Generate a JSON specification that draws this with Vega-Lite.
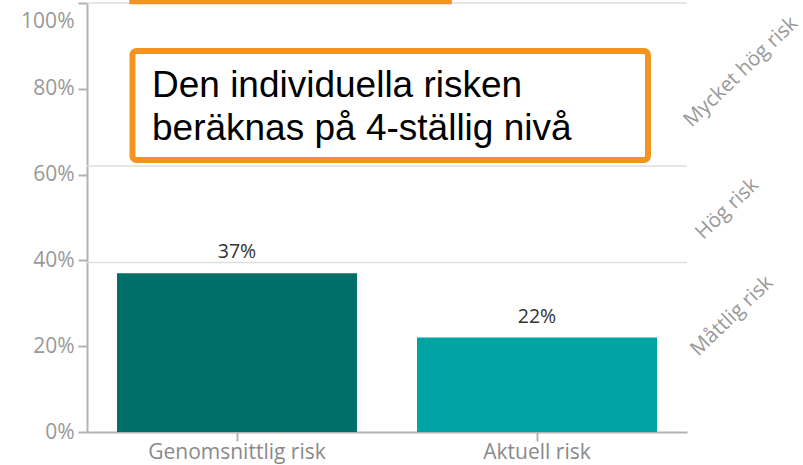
{
  "$schema": "https://vega.github.io/schema/vega-lite/v6.json",
  "width": 600,
  "height": 429,
  "autosize": {"type": "none"},
  "padding": {"left": 87, "top": 3, "right": 116, "bottom": 33},
  "config": {"view": {"stroke": null}, "font": "Open Sans"},
  "datasets": {
    "risk": [
      {"kategori": "Genomsnittlig risk", "risk": 0.37},
      {"kategori": "Aktuell risk", "risk": 0.22}
    ],
    "zones": [
      {"zone": "Måttlig risk", "upper": 0.395},
      {"zone": "Hög risk", "upper": 0.62},
      {"zone": "Mycket hög risk", "upper": 1.0}
    ]
  },
  "resolve": {"scale": {"x": "independent"}, "axis": {"y": "independent"}},
  "layer": [
    {
      "data": {"name": "zones"},
      "mark": {"type": "rule", "color": "#dedede", "strokeWidth": 1.5},
      "encoding": {
        "y": {
          "field": "upper", "type": "quantitative", "title": null,
          "scale": {"domain": [0, 1], "nice": false},
          "axis": {
            "orient": "left",
            "values": [0, 0.2, 0.4, 0.6, 0.8, 1],
            "labelExpr": "datum.value === 1 ? '' : format(datum.value, '.0%')",
            "grid": false,
            "domainColor": "#b3b3b3", "domainWidth": 2, "tickColor": "#b3b3b3", "tickWidth": 2,
            "tickSize": 9, "labelFontSize": 21, "labelColor": "#999999", "labelPadding": 4, "labelFont": "Open Sans"
          }
        }
      }
    },
    {
      "data": {"name": "risk"},
      "layer": [
        {
          "mark": {"type": "bar"},
          "encoding": {
            "x": {
              "field": "kategori", "type": "nominal", "sort": null, "title": null,
              "scale": {"paddingInner": 0.2, "paddingOuter": 0.1},
              "axis": {
                "labelAngle": 0, "domainColor": "#b3b3b3", "domainWidth": 2,
                "tickColor": "#b3b3b3", "tickWidth": 2, "tickSize": 9,
                "labelFontSize": 21, "labelColor": "#8a8a8a", "labelPadding": 0, "labelFont": "Open Sans"
              }
            },
            "y": {"field": "risk", "type": "quantitative", "title": null, "scale": {"domain": [0, 1], "nice": false}, "axis": null},
            "color": {
              "field": "kategori", "type": "nominal", "legend": null,
              "scale": {"domain": ["Genomsnittlig risk", "Aktuell risk"], "range": ["#006e69", "#00a4a2"]}
            }
          }
        },
        {
          "mark": {"type": "text", "baseline": "alphabetic", "dy": -15, "fontSize": 19.5, "color": "#333333", "font": "Open Sans"},
          "encoding": {
            "x": {"field": "kategori", "type": "nominal", "sort": null},
            "y": {"field": "risk", "type": "quantitative", "scale": {"domain": [0, 1], "nice": false}, "axis": null},
            "text": {"field": "risk", "type": "quantitative", "format": ".0%"}
          }
        }
      ]
    },
    {
      "data": {"values": [{}]},
      "mark": {"type": "rect", "fill": "#ffffff", "stroke": "#f39422", "strokeWidth": 6, "cornerRadius": 4},
      "encoding": {
        "x": {"datum": 7.58, "type": "quantitative", "scale": {"domain": [0, 100], "nice": false, "zero": false}, "axis": null},
        "x2": {"datum": 93.5},
        "y": {"datum": 0.888, "type": "quantitative", "scale": {"domain": [0, 1], "nice": false}, "axis": null},
        "y2": {"datum": 0.634}
      }
    },
    {
      "data": {"values": [{}]},
      "mark": {"type": "rect", "fill": "#f39422"},
      "encoding": {
        "x": {"datum": 7.05, "type": "quantitative", "scale": {"domain": [0, 100], "nice": false, "zero": false}, "axis": null},
        "x2": {"datum": 60.8},
        "y": {
          "datum": 1.007, "type": "quantitative", "title": null,
          "scale": {"domain": [0, 1], "nice": false},
          "axis": {
            "orient": "left", "values": [1], "format": ".0%", "grid": false, "domain": false,
            "tickOpacity": 0, "tickSize": 9, "labelOffset": 18,
            "labelFontSize": 21, "labelColor": "#999999", "labelPadding": 4, "labelFont": "Open Sans"
          }
        },
        "y2": {"datum": 0.997}
      }
    },
    {
      "data": {"values": [{}]},
      "mark": {"type": "text", "align": "left", "baseline": "alphabetic", "font": "Liberation Sans", "fontSize": 37, "lineHeight": 43, "color": "#000000",
        "text": ["Den individuella risken", "beräknas på 4-ställig nivå"]},
      "encoding": {
        "x": {"datum": 10.83, "type": "quantitative", "scale": {"domain": [0, 100], "nice": false, "zero": false}, "axis": null},
        "y": {"datum": 0.781, "type": "quantitative", "scale": {"domain": [0, 1], "nice": false}, "axis": null}
      }
    },
    {
      "data": {"values": [{}]},
      "mark": {"type": "text", "align": "center", "baseline": "middle", "angle": 316, "font": "Open Sans", "fontSize": 20.5, "color": "#999999", "text": "Mycket hög risk"},
      "encoding": {
        "x": {"datum": 109, "type": "quantitative", "scale": {"domain": [0, 100], "nice": false, "zero": false}, "axis": null},
        "y": {"datum": 0.839, "type": "quantitative", "scale": {"domain": [0, 1], "nice": false}, "axis": null}
      }
    },
    {
      "data": {"values": [{}]},
      "mark": {"type": "text", "align": "center", "baseline": "middle", "angle": 316, "font": "Open Sans", "fontSize": 20.5, "color": "#999999", "text": "Hög risk"},
      "encoding": {
        "x": {"datum": 106.7, "type": "quantitative", "scale": {"domain": [0, 100], "nice": false, "zero": false}, "axis": null},
        "y": {"datum": 0.52, "type": "quantitative", "scale": {"domain": [0, 1], "nice": false}, "axis": null}
      }
    },
    {
      "data": {"values": [{}]},
      "mark": {"type": "text", "align": "center", "baseline": "middle", "angle": 316, "font": "Open Sans", "fontSize": 20.5, "color": "#999999", "text": "Måttlig risk"},
      "encoding": {
        "x": {"datum": 107.5, "type": "quantitative", "scale": {"domain": [0, 100], "nice": false, "zero": false}, "axis": null},
        "y": {"datum": 0.27, "type": "quantitative", "scale": {"domain": [0, 1], "nice": false}, "axis": null}
      }
    }
  ]
}
